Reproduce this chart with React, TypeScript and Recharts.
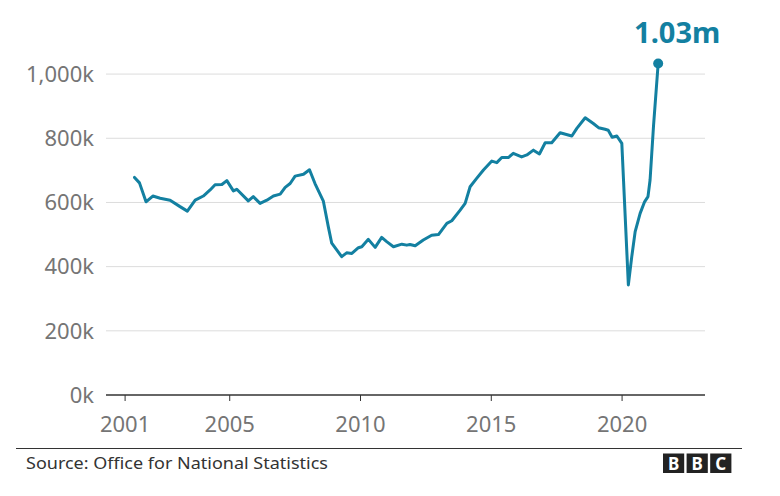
import React from 'react';
import { LineChart, Line, XAxis, YAxis, ReferenceLine, ReferenceDot } from 'recharts';

const years = [
  2001.36, 2001.55, 2001.8, 2002.06, 2002.34, 2002.72, 2003.1, 2003.38, 2003.68, 2003.99,
  2004.25, 2004.44, 2004.7, 2004.89, 2005.14, 2005.27, 2005.71, 2005.9, 2006.16, 2006.42,
  2006.67, 2006.93, 2007.12, 2007.31, 2007.5, 2007.82, 2008.05, 2008.26, 2008.58, 2008.77,
  2008.9, 2009.09, 2009.28, 2009.47, 2009.67, 2009.92, 2010.05, 2010.3, 2010.56, 2010.81,
  2011.0, 2011.26, 2011.58, 2011.77, 2011.89, 2012.09, 2012.4, 2012.72, 2012.98, 2013.3,
  2013.49, 2013.81, 2014.0, 2014.19, 2014.44, 2014.7, 2015.02, 2015.21, 2015.4, 2015.65,
  2015.84, 2016.16, 2016.36, 2016.61, 2016.84, 2017.06, 2017.31, 2017.63, 2018.08, 2018.27,
  2018.59, 2018.9, 2019.1, 2019.35, 2019.47, 2019.62, 2019.8, 2019.99, 2020.24, 2020.37,
  2020.5, 2020.69, 2020.86, 2020.99, 2021.07, 2021.2, 2021.38,
];

const vacancies = [
  678, 661, 602, 620, 613, 607, 587, 573, 607, 620,
  639, 655, 656, 668, 636, 641, 605, 618, 597, 607,
  620, 626, 647, 659, 682, 688, 702, 659, 604, 524,
  473, 452, 431, 443, 441, 459, 462, 485, 460, 491,
  478, 462, 470, 467, 469, 465, 483, 498, 500, 535,
  543, 576, 597, 649, 675, 701, 729, 724, 740, 740,
  753, 742, 748, 763, 751, 786, 786, 817, 807, 831,
  864, 846, 833, 828, 825, 803, 807, 784, 343, 431,
  509, 566, 602, 618, 670, 836, 1033,
];

const xTicks = [2001, 2005, 2010, 2015, 2020];
const yTicks = [0, 200, 400, 600, 800, 1000];
const latestLabel = '1.03m';
const sourceText = 'Source: Office for National Statistics';
const logoLetters = ['B', 'B', 'C'];

const data = years.map((y, i) => ({ year: y, value: vacancies[i] }));
const last = data[data.length - 1];

const TEAL = '#1380A1';
const FONT = '"Noto Sans", "Open Sans", sans-serif';

const fmtK = (v: number) => {
  const s = String(v).replace(/\B(?=(\d{3})+(?!\d))/g, ',');
  return s + 'k';
};

const DotLabel = (props: any) => {
  const { viewBox } = props;
  const cx = viewBox.x + viewBox.width / 2;
  const cy = viewBox.y + viewBox.height / 2;
  return (
    <text x={cx + 19} y={cy - 21} textAnchor="middle" fill={TEAL} fontSize={29} fontWeight={700} fontFamily={FONT}>
      {latestLabel}
    </text>
  );
};

export default function App() {
  return (
    <div style={{ position: 'absolute', left: 0, top: 0, width: 780, height: 496, background: '#fff', fontFamily: FONT }}>
      <LineChart width={780} height={496} data={data} margin={{ top: 42, right: 75, bottom: 71, left: 0 }}>
        {yTicks.filter((t) => t > 0).map((t) => (
          <ReferenceLine key={t} y={t} stroke="#dcdcdc" strokeWidth={1} />
        ))}
        <XAxis
          dataKey="year"
          type="number"
          domain={[2000.27, 2023.17]}
          ticks={xTicks}
          height={30}
          tickFormatter={(v: number) => String(Math.round(v))}
          axisLine={{ stroke: '#333', strokeWidth: 1.5 }}
          tickLine={{ stroke: '#333', strokeWidth: 1 }}
          tickSize={6}
          tickMargin={15}
          tick={{ fill: '#757575', fontSize: 22, fontFamily: FONT }}
          allowDecimals
        />
        <YAxis
          type="number"
          domain={[0, 1100]}
          ticks={yTicks}
          width={106}
          axisLine={false}
          tickLine={false}
          tickSize={6}
          tickMargin={6}
          tickFormatter={fmtK}
          tick={{ fill: '#757575', fontSize: 22, fontFamily: FONT }}
        />
        <Line
          type="linear"
          dataKey="value"
          stroke={TEAL}
          strokeWidth={3}
          dot={false}
          strokeLinejoin="round"
          strokeLinecap="round"
          isAnimationActive={false}
        />
        <ReferenceDot x={last.year} y={last.value} r={5} fill={TEAL} stroke="none" label={<DotLabel />} />
      </LineChart>
      <svg width={780} height={496} style={{ position: 'absolute', left: 0, top: 0, pointerEvents: 'none' }}>
        <line x1={16} x2={742} y1={448.5} y2={448.5} stroke="#333" strokeWidth={1} />
        <text x={26} y={469} fontSize={17} fill="#333" fontFamily={FONT} textLength={302} lengthAdjust="spacingAndGlyphs">
          {sourceText}
        </text>
        {logoLetters.map((ch, i) => (
          <g key={i}>
            <rect x={663 + i * 23.6} y={453.5} width={21.2} height={19.5} fill="#222" />
            <text x={663 + i * 23.6 + 10.6} y={469.5} textAnchor="middle" fontSize={17} fontWeight={700} fill="#fff" fontFamily={FONT}>
              {ch}
            </text>
          </g>
        ))}
      </svg>
    </div>
  );
}
